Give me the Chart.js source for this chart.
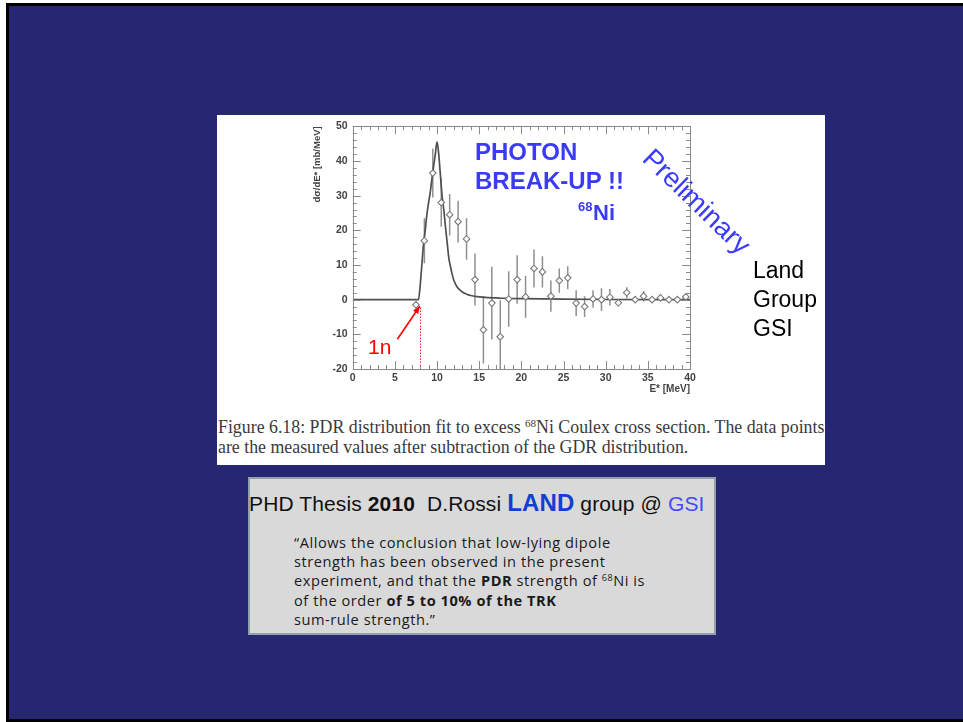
<!DOCTYPE html>
<html><head><meta charset="utf-8">
<script src="https://cdn.jsdelivr.net/npm/chart.js@4"></script>
<style>
html,body{margin:0;padding:0;width:963px;height:722px;overflow:hidden;background:#fff;font-family:"Liberation Sans",Arial,sans-serif;}
#slide{position:absolute;left:6px;top:3px;width:957px;height:719px;background:#272670;border-left:3px solid #000;border-top:3px solid #000;border-bottom:3px solid #000;box-sizing:border-box;}
#panel{position:absolute;left:217px;top:115px;width:608px;height:350px;background:#fff;}
#cv{position:absolute;left:217px;top:115px;}
.t{position:absolute;white-space:nowrap;line-height:1;}
#photon{left:475px;top:138px;font:bold 24px "Liberation Sans",Arial,sans-serif;color:#3b3bf5;}
#breakup{left:475px;top:167px;font:bold 24px "Liberation Sans",Arial,sans-serif;color:#3b3bf5;}
#ni68{left:578px;top:199px;font:bold 13px "Liberation Sans",Arial,sans-serif;color:#3b3bf5;}
#ni{left:593px;top:200px;font:bold 22px "Liberation Sans",Arial,sans-serif;color:#3b3bf5;}
#prelim{left:598px;top:186px;width:200px;text-align:center;font:27.5px "Liberation Sans",Arial,sans-serif;color:#3b3bff;transform:rotate(44deg);transform-origin:100px 14px;}
#land{left:753px;top:256px;font:23px "Liberation Sans",Arial,sans-serif;color:#000;line-height:29px;}
#onen{left:368px;top:335px;font:21px "Liberation Sans",Arial,sans-serif;color:#f00;}
.cap{position:absolute;left:218px;white-space:nowrap;font-family:"Liberation Serif","Times New Roman",serif;color:#3a3a3a;line-height:1;}
#box{position:absolute;left:248px;top:477px;width:468px;height:158px;background:#d9d9d9;border:2px solid #8fa3ab;box-sizing:border-box;}
#phd{position:absolute;left:249px;top:490px;white-space:nowrap;font:21px "Liberation Sans",Arial,sans-serif;color:#111;line-height:26px;letter-spacing:0.12px;}
.q{position:absolute;left:294px;white-space:nowrap;font-family:"Open Sans",sans-serif;font-size:14.6px;letter-spacing:0.55px;color:#1a1a1a;line-height:19px;}
sup{font-size:0.62em;vertical-align:0.5em;line-height:0;}
</style></head>
<body>
<div id="slide"></div>
<div id="panel"></div>
<canvas id="cv" width="608" height="295"></canvas>
<div class="t" id="photon">PHOTON</div>
<div class="t" id="breakup">BREAK-UP !!</div>
<div class="t" id="ni68">68</div>
<div class="t" id="ni">Ni</div>
<div class="t" id="prelim">Preliminary</div>
<div class="t" id="land">Land<br>Group<br>GSI</div>
<div class="t" id="onen">1n</div>
<div class="cap" id="cap1" style="top:419px;font-size:15px;">Figure 6.18: PDR distribution fit to excess <sup>68</sup>Ni Coulex cross section. The data points</div>
<div class="cap" id="cap2" style="top:439px;font-size:15px;">are the measured values after subtraction of the GDR distribution.</div>
<div id="box"></div>
<div id="phd">PHD Thesis <b>2010</b>&nbsp; D.Rossi <b style="font-size:24px;color:#1140d0;">LAND</b> group @ <span style="color:#4646ff;">GSI</span></div>
<div class="q" style="top:533px;">“Allows the conclusion that low-lying dipole</div>
<div class="q" style="top:552px;">strength has been observed in the present</div>
<div class="q" style="top:571px;">experiment, and that the <b>PDR</b> strength of <sup>68</sup>Ni is</div>
<div class="q" style="top:591px;">of the order <b>of 5 to 10% of the TRK</b></div>
<div class="q" style="top:610px;">sum-rule strength.”</div>
<script>
// ---- data ----
const pointEnergies = [7.5, 8.5, 9.5, 10.5, 11.5, 12.5, 13.5, 14.5, 15.5, 16.5, 17.5, 18.5, 19.5, 20.5, 21.5, 22.5, 23.5, 24.5, 25.5, 26.5, 27.5, 28.5, 29.5, 30.5, 31.5, 32.5, 33.5, 34.5, 35.5, 36.5, 37.5, 38.5, 39.5];
const pointValues  = [-1.5, 17, 36.5, 28, 24.5, 22.5, 17.5, 5.8, -8.7, -1, -10.7, 0.2, 5.8, 0.8, 9, 8, 1, 5.5, 6.3, -1, -2, 0.2, 0, 0.7, -0.9, 2, 0, 1, 0, 0.5, 0, 0, 0.8];
const pointErrors  = [1, 6.5, 7, 7, 6, 6, 6, 7.5, 9.7, 10.5, 10.5, 8, 7, 6, 5.5, 4.5, 4.5, 3.5, 3.3, 3.7, 3, 2.5, 3.3, 2.4, 1, 1.6, 0.5, 1.5, 0.5, 0.5, 0.4, 0.4, 0.8];
const binHalfWidth = 0.5;
const fitEnergies = [0, 7.8, 8.0, 8.2, 8.4, 8.6, 8.8, 9.0, 9.2, 9.4, 9.6, 9.8, 10.0, 10.2, 10.4, 10.6, 10.8, 11.0, 11.2, 11.4, 11.6, 11.8, 12.0, 12.4, 12.8, 13.2, 13.6, 14.0, 15, 16, 17, 18, 20, 25, 30, 40];
const fitValues   = [0, 0, 4, 10, 16, 20, 24.6, 28, 31, 35, 38.5, 42, 45.5, 42, 36, 30, 26, 21, 16.5, 12, 9.5, 7.3, 5.5, 3.6, 2.6, 1.9, 1.5, 1.2, 0.8, 0.6, 0.5, 0.4, 0.3, 0.15, 0.05, 0];
const thresholdE = 7.95;
const thresholdY = -2;
const arrowFrom = [5.3, -11.4];
const arrowTo = [7.95, -1.9];
const xTickLabels = ['0','5','10','15','20','25','30','35','40'];
const yTickLabels = ['-20','-10','0','10','20','30','40','50'];

// fit caption width
(function(){
  const c1 = document.getElementById('cap1'), c2 = document.getElementById('cap2');
  const w = c1.getBoundingClientRect().width;
  const fs = 15 * 607 / w;
  c1.style.fontSize = fs + 'px'; c2.style.fontSize = fs + 'px';
})();

const tickFont = {family:'"Liberation Sans", Arial, sans-serif', size:10.5, weight:'bold'};
const decor = {
  id:'decor',
  beforeDatasetsDraw(chart){
    const {ctx, chartArea:a, scales:{x, y}} = chart;
    ctx.save();
    ctx.beginPath(); ctx.rect(a.left, a.top, a.right-a.left, a.bottom-a.top); ctx.clip();
    ctx.strokeStyle = '#8f8f8f'; ctx.lineWidth = 1.5;
    pointEnergies.forEach((e,i)=>{
      const px = x.getPixelForValue(e), py = y.getPixelForValue(pointValues[i]);
      ctx.beginPath();
      ctx.moveTo(px, y.getPixelForValue(pointValues[i]-pointErrors[i]));
      ctx.lineTo(px, y.getPixelForValue(pointValues[i]+pointErrors[i]));
      ctx.moveTo(x.getPixelForValue(e-binHalfWidth*0.6), py);
      ctx.lineTo(x.getPixelForValue(e+binHalfWidth*0.6), py);
      ctx.stroke();
    });
    ctx.strokeStyle = '#ff2020'; ctx.lineWidth = 1; ctx.setLineDash([1.5,1.5]);
    const tx = Math.round(x.getPixelForValue(thresholdE))+0.5;
    ctx.beginPath(); ctx.moveTo(tx, y.getPixelForValue(y.min)); ctx.lineTo(tx, y.getPixelForValue(thresholdY)); ctx.stroke();
    ctx.restore();
  },
  afterDraw(chart){
    const {ctx, chartArea:a, scales:{x, y}} = chart;
    ctx.save();
    ctx.strokeStyle = '#8a8a8a'; ctx.lineWidth = 1;
    ctx.strokeRect(Math.round(a.left)+0.5, Math.round(a.top)+0.5, Math.round(a.right-a.left), Math.round(a.bottom-a.top));
    ctx.beginPath();
    for (let v = x.min; v <= x.max + 1e-9; v += 1) {
      const px = Math.round(x.getPixelForValue(v))+0.5;
      const L = (Math.abs(v % 5) < 1e-9) ? 8 : 4;
      ctx.moveTo(px, a.bottom); ctx.lineTo(px, a.bottom - L);
      ctx.moveTo(px, a.top); ctx.lineTo(px, a.top + L);
    }
    for (let v = y.min; v <= y.max + 1e-9; v += 2) {
      const py = Math.round(y.getPixelForValue(v))+0.5;
      const L = (Math.abs(v % 10) < 1e-9) ? 8 : 4;
      ctx.moveTo(a.left, py); ctx.lineTo(a.left + L, py);
      ctx.moveTo(a.right, py); ctx.lineTo(a.right - L, py);
    }
    ctx.stroke();
    const x0 = x.getPixelForValue(arrowFrom[0]), y0 = y.getPixelForValue(arrowFrom[1]);
    const x1 = x.getPixelForValue(arrowTo[0]), y1 = y.getPixelForValue(arrowTo[1]);
    ctx.strokeStyle = '#ff0000'; ctx.fillStyle = '#ff0000'; ctx.lineWidth = 1.6;
    ctx.beginPath(); ctx.moveTo(x0,y0); ctx.lineTo(x1,y1); ctx.stroke();
    const ang = Math.atan2(y1-y0, x1-x0);
    ctx.beginPath(); ctx.moveTo(x1,y1);
    ctx.lineTo(x1 - 8*Math.cos(ang-0.4), y1 - 8*Math.sin(ang-0.4));
    ctx.lineTo(x1 - 8*Math.cos(ang+0.4), y1 - 8*Math.sin(ang+0.4));
    ctx.closePath(); ctx.fill();
    ctx.restore();
  }
};

new Chart(document.getElementById('cv'), {
  type:'scatter',
  data:{datasets:[
    {type:'line', data: fitEnergies.map((e,i)=>({x:e, y:fitValues[i]})), borderColor:'#505050', borderWidth:1.7, pointRadius:0, cubicInterpolationMode:'monotone', fill:false, order:2},
    {type:'scatter', data: pointEnergies.map((e,i)=>({x:e, y:pointValues[i]})), pointStyle:'rectRot', pointRadius:3.3, borderColor:'#7a7a7a', backgroundColor:'#ffffff', borderWidth:1.1, order:1}
  ]},
  options:{
    responsive:false, animation:false, devicePixelRatio:1,
    layout:{padding:{left:90.7, right:135, top:9.3, bottom:11}},
    plugins:{legend:{display:false}, tooltip:{enabled:false}},
    scales:{
      x:{type:'linear', min:0, max:40,
        ticks:{stepSize:5, font:tickFont, color:'#444', padding:3, maxRotation:0, callback:(v)=>xTickLabels[xTickLabels.indexOf(String(v))] ?? ''},
        grid:{display:false, drawTicks:false}, border:{display:false},
        title:{display:true, text:'E* [MeV]', align:'end', color:'#444', font:{family:'"Liberation Sans", Arial, sans-serif', size:10, weight:'bold'}, padding:{top:0,bottom:4}},
        afterFit(s){ s.height = 30; }},
      y:{type:'linear', min:-20, max:50,
        ticks:{stepSize:10, font:tickFont, color:'#444', padding:5, callback:(v)=>yTickLabels[yTickLabels.indexOf(String(v))] ?? ''},
        grid:{display:false, drawTicks:false}, border:{display:false},
        title:{display:true, text:'dσ/dE* [mb/MeV]', align:'end', color:'#444', font:{family:'"Liberation Sans", Arial, sans-serif', size:9.5, weight:'bold'}, padding:{top:4,bottom:0}},
        afterFit(s){ s.width = 45; }}
    }
  },
  plugins:[decor]
});
</script>
</body></html>
